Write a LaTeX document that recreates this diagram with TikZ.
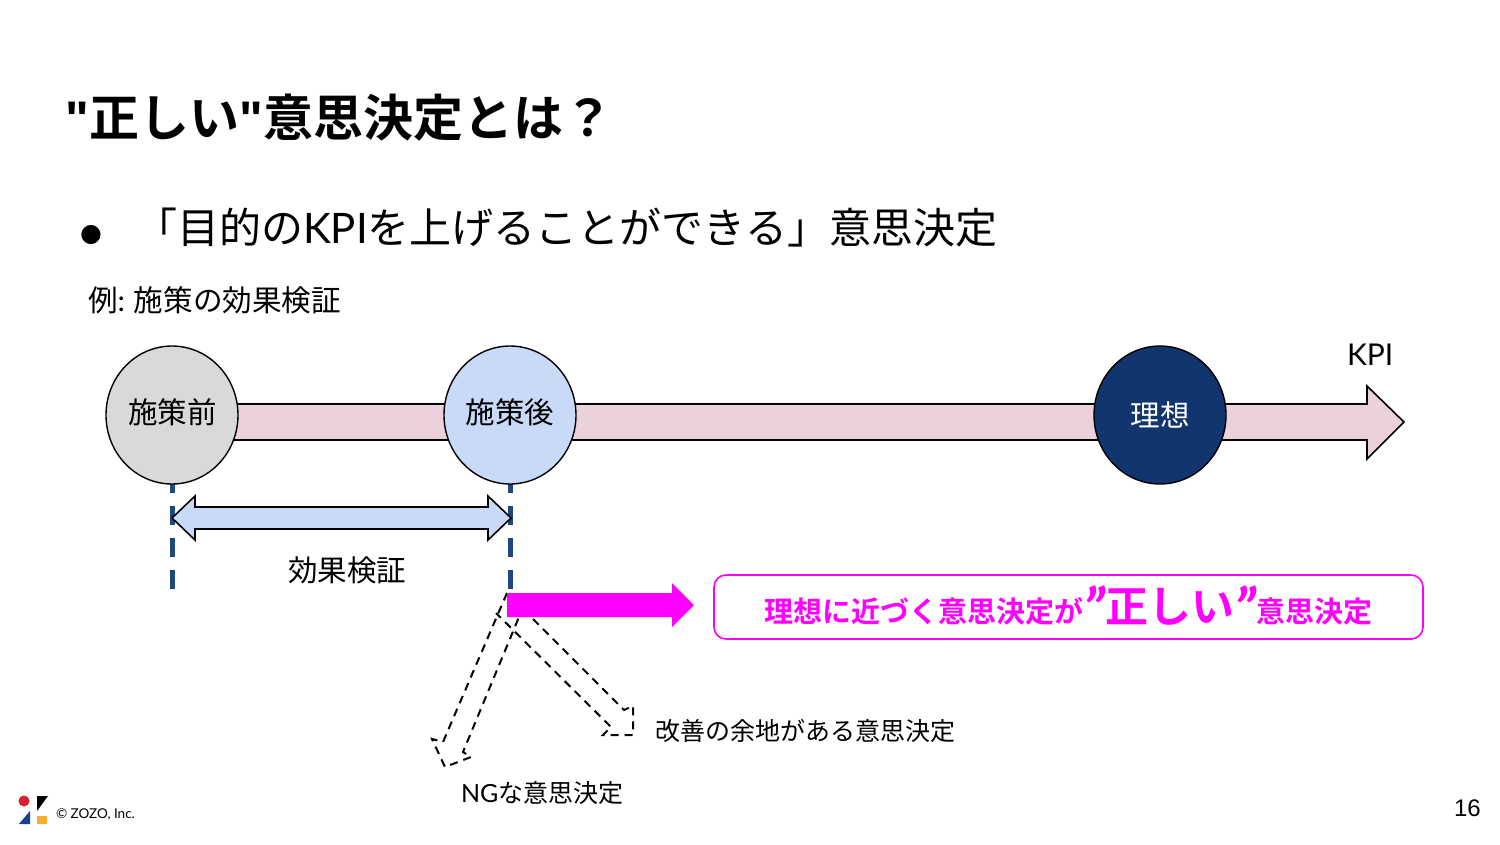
\documentclass[tikz,border=0pt]{standalone}
\usepackage{fontspec}
\setmainfont[BoldFont={Noto Sans CJK JP Bold}]{Noto Sans CJK JP}
\newfontfamily\lat{Lato}
\newfontfamily\arialf{Liberation Sans}
\newfontfamily\dejaf{DejaVu Sans}
\definecolor{pinkbar}{HTML}{EAD1DC}
\definecolor{paleblue}{HTML}{C9DAF8}
\definecolor{greyc}{HTML}{D9D9D9}
\definecolor{navyc}{HTML}{11356F}
\definecolor{dashblue}{HTML}{1F497D}
\definecolor{magentac}{HTML}{FF00FF}
\definecolor{logored}{HTML}{D81E2C}
\definecolor{logoblue}{HTML}{1A4190}
\definecolor{logoyellow}{HTML}{F5AE2D}
\newcommand{\fs}[1]{\fontsize{#1}{#1}\selectfont}
\newcommand{\bigq}{\raisebox{-9pt}{\fs{60}\lat\itshape ”}}
\usetikzlibrary{shapes.geometric}
\tikzset{
  txt/.style={anchor=base west,inner sep=0pt,outer sep=0pt,text=black},
  ctxt/.style={anchor=base,inner sep=0pt,outer sep=0pt},
  circ/.style={ellipse,draw=black,line width=1.4pt,minimum width=132pt,minimum height=138pt,inner sep=0pt},
  block/.style={draw=black,line width=1.6pt,line join=miter},
  dashedarrow/.style={draw=black,line width=2pt,dash pattern=on 8pt off 6pt},
  guide/.style={draw=dashblue,line width=5pt,dash pattern=on 19pt off 13pt},
}
\begin{document}
\begin{tikzpicture}[x=1pt,y=-1pt]
\useasboundingbox (0,0) rectangle (1500,844);
\fill[white] (0,0) rectangle (1500,844);
% title
\node[txt] (title) at (65,136) {\fs{50}\bfseries{\arialf "}\hspace{1pt}正しい{\arialf "}意思決定とは？};
\node[txt] (bullet) at (80,241) {\fs{25}\dejaf ●};
\node[txt] (point) at (135,243) {\fs{42}「目的の{\lat KPI}を上げることができる」意思決定};
\node[txt] (ex) at (88,311) {\fs{29.6}例{\lat :} 施策の効果検証};
% big arrow
\draw[block,fill=pinkbar] (172,404) -- (1367,404) -- (1367,386) -- (1404,422) -- (1367,459) -- (1367,440) -- (172,440) -- cycle;
\node[txt] (kpi) at (1347,365) {\fs{30}\lat KPI};
% guides
\coordinate (g1a) at (172.5,484);
\coordinate (g1b) at (172.5,590);
\coordinate (g2a) at (510,484);
\coordinate (g2b) at (510,590);
\draw[guide,dash phase=10pt] (g1a) -- (g1b);
\draw[guide,dash phase=10pt] (g2a) -- (g2b);
% circles
\node[circ,fill=greyc] (before) at (172,415) {};
\node[circ,fill=paleblue] (after) at (510,415) {};
\node[circ,fill=navyc] (ideal) at (1160,415) {};
\node[ctxt] (beforet) at (172.5,423) {\fs{29.5}施策前};
\node[ctxt] (aftert) at (510,423) {\fs{29.5}施策後};
\node[ctxt,text=white] (idealt) at (1160,426) {\fs{29.5}理想};
% double arrow
\draw[block,fill=paleblue] (172,518) -- (195,496) -- (195,507) -- (488,507) -- (488,496) -- (511,518) -- (488,540) -- (488,529) -- (195,529) -- (195,540) -- cycle;
\node[ctxt] (verify) at (347,581) {\fs{29.5}効果検証};
% dashed arrows
\draw[dashedarrow] (507,593) -- (443,742) -- (432,739) -- (445,767) -- (471,757) -- (463,752) -- (519,617);
\draw[dashedarrow] (533,619) -- (624,710) -- (633,706) -- (633,735) -- (603,735) -- (611,727) -- (496,613);
% magenta arrow
\fill[magentac] (507,593) -- (672,593) -- (672,583) -- (694,605) -- (672,627) -- (672,617) -- (507,617) -- cycle;
% box
\draw[magentac,line width=1.6pt,fill=white,rounded corners=12pt] (714,575) rectangle (1423,639);
\node[ctxt,text=magentac] (right) at (1068.5,622) {\fs{29}\bfseries 理想に近づく意思決定が\bigq{\fs{43}正しい}\bigq 意思決定};
% small labels
\node[txt] (better) at (655,740) {\fs{25}改善の余地がある意思決定};
\node[txt] (ng) at (461,802) {\fs{25}{\lat NG}な意思決定};
% logo
\fill[logored] (24,801) circle (5.5);
\fill[black] (37,796) -- (48,796) -- (37,811) -- cycle;
\fill[logoblue] (30,811) -- (19,824) -- (30,824) -- cycle;
\fill[logoyellow] (37,816) rectangle (47,824);
\node[txt] (copy) at (56,818) {\fs{13.5}\lat © ZOZO, Inc.};
\node[txt] (page) at (1454,816) {\fs{24}\arialf 16};
\end{tikzpicture}
\end{document}
